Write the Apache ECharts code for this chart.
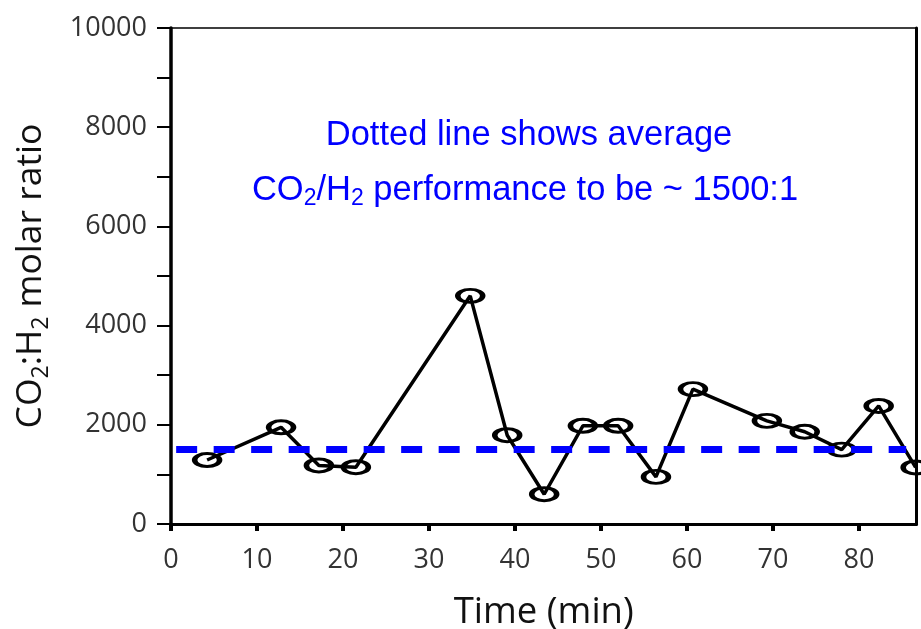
<!DOCTYPE html>
<html>
<head>
<meta charset="utf-8">
<script src="https://cdn.jsdelivr.net/npm/echarts@6/dist/echarts.min.js"></script>
<style>
  html, body { margin: 0; padding: 0; background: #fff; }
  #chart { width: 921px; height: 629px; }
</style>
</head>
<body>
<div id="chart"></div>
<script>
// time (min) and CO2:H2 molar ratio
const times = [4.2, 12.8, 17.2, 21.5, 34.8, 39.1, 43.4, 47.9, 52.0, 56.4, 60.7, 69.3, 73.7, 78.0, 82.3, 86.6]
const ratios = [1290, 1950, 1180, 1145, 4600, 1790, 600, 1980, 1980, 950, 2720, 2080, 1860, 1500, 2380, 1140]

// average line
const avgValue = 1500
const avgFrom = 0.6
const avgTo = 85.5

const yTicks = [0, 2000, 4000, 6000, 8000, 10000]
const xMax = 86.7

const points = times.map((t, i) => [t, ratios[i]])
const avgPoints = [[avgFrom, avgValue], [avgTo, avgValue]]

const chart = echarts.init(document.getElementById('chart'))

const options = {
  animation: false,
  grid: { left: 171, right: 4.5, top: 28, bottom: 105, containLabel: false, outerBoundsMode: 'none' },
  xAxis: [
    {
      type: 'value',
      min: 0,
      max: xMax,
      interval: 10,
      name: 'Time (min)',
      nameLocation: 'middle',
      nameGap: 70,
      nameTextStyle: { fontFamily: 'Open Sans', fontSize: 36.5, color: '#111' },
      axisLine: { onZero: false, lineStyle: { color: '#000', width: 3 } },
      axisTick: { inside: false, length: 7, lineStyle: { color: '#000', width: 4 } },
      axisLabel: {
        margin: 23,
        fontFamily: 'Open Sans',
        fontSize: 27,
        color: '#333',
        showMaxLabel: false,
      },
      splitLine: { show: false },
    },
    {
      type: 'value',
      position: 'top',
      min: 0,
      max: xMax,
      axisLine: { onZero: false, lineStyle: { color: '#000', width: 1.5 } },
      axisTick: { show: false },
      axisLabel: { show: false },
      splitLine: { show: false },
    },
  ],
  yAxis: [
    {
      type: 'value',
      min: yTicks[0],
      max: yTicks[yTicks.length - 1],
      interval: 2000,
      name: '{n|CO}{s|2}{n|:H}{s|2}{n| molar ratio}',
      nameLocation: 'middle',
      nameRotate: 90,
      nameGap: 118,
      nameTextStyle: {
        rich: {
          n: { fontFamily: 'Open Sans', fontSize: 35.5, color: '#111', lineHeight: 44 },
          s: { fontFamily: 'Open Sans', fontSize: 23, color: '#111', lineHeight: 23, verticalAlign: 'bottom' },
        },
      },
      axisLine: { onZero: false, lineStyle: { color: '#000', width: 3.5 } },
      axisTick: { inside: false, length: 14, lineStyle: { color: '#000', width: 2 } },
      minorTick: { show: true, splitNumber: 2, length: 14, lineStyle: { color: '#000', width: 2 } },
      axisLabel: {
        margin: 24,
        fontFamily: 'Open Sans',
        fontSize: 27,
        color: '#333',
        formatter: v => String(v),
      },
      splitLine: { show: false },
    },
    {
      type: 'value',
      position: 'right',
      min: 0,
      max: 10000,
      axisLine: { onZero: false, lineStyle: { color: '#000', width: 3 } },
      axisTick: { show: false },
      axisLabel: { show: false },
      splitLine: { show: false },
    },
  ],
  graphic: [
    {
      type: 'text',
      x: 529,
      y: 135,
      style: {
        text: 'Dotted line shows average',
        fontFamily: 'Liberation Sans',
        fontSize: 34.5,
        fill: '#0000ff',
        align: 'center',
        verticalAlign: 'middle',
      },
    },
    {
      type: 'text',
      x: 525,
      y: 190,
      style: {
        text: '{n|CO}{s|2}{n|/H}{s|2}{n| performance to be ~ 1500:1}',
        align: 'center',
        verticalAlign: 'middle',
        rich: {
          n: { fontFamily: 'Liberation Sans', fontSize: 34.5, fill: '#0000ff', lineHeight: 40 },
          s: { fontFamily: 'Liberation Sans', fontSize: 23, fill: '#0000ff', lineHeight: 22, verticalAlign: 'bottom' },
        },
      },
    },
  ],
  series: [
    {
      type: 'line',
      data: points,
      symbol: 'circle',
      symbolSize: [25, 13],
      itemStyle: { color: 'rgba(0,0,0,0)', borderColor: '#000', borderWidth: 4 },
      lineStyle: { color: '#000', width: 3.5 },
      clip: false,
      z: 2,
    },
    {
      type: 'line',
      data: avgPoints,
      symbol: 'none',
      lineStyle: { color: '#0000ff', width: 7, type: [21, 16.5], cap: 'butt' },
      z: 3,
    },
  ],
}

chart.setOption(options)
window.onresize = function () {
  chart.resize()
}
</script>
</body>
</html>
